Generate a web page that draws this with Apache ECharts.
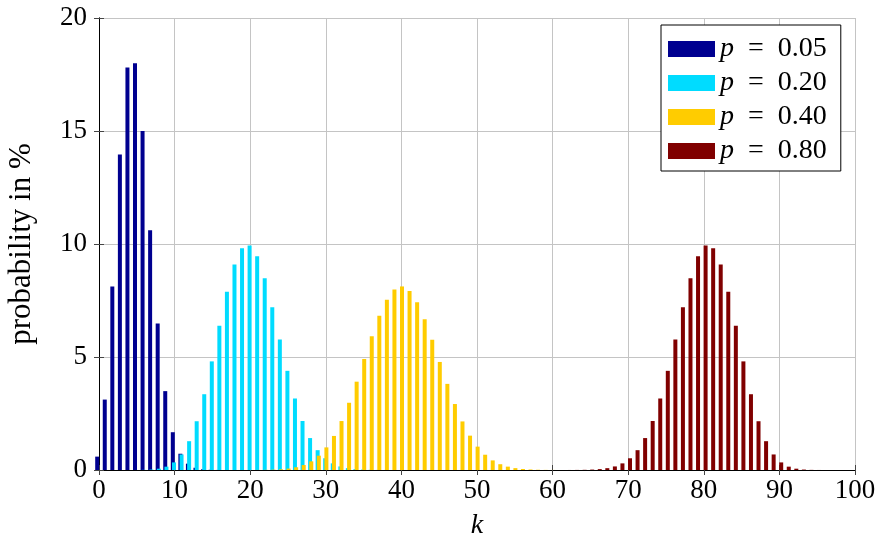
<!DOCTYPE html>
<html>
<head>
<meta charset="utf-8">
<script src="https://cdn.jsdelivr.net/npm/echarts@6/dist/echarts.min.js"></script>
<style>
html,body{margin:0;padding:0;background:#fff;}
#chart{width:877px;height:542px;}
</style>
</head>
<body>
<div id="chart"></div>
<script>
// Series names
const seriesNames = ['p = 0.05', 'p = 0.20', 'p = 0.40', 'p = 0.80'];
// First k of each values array (values are probability in %)
const p05Start = 0;
const p05 = [0.592, 3.116, 8.118, 13.958, 17.814, 18.002, 15.001, 10.603, 6.487, 3.490, 1.672, 0.720, 0.281, 0.100, 0.033, 0.010, 0.003, 0.001];
const p20Start = 5;
const p20 = [0.0015, 0.0059, 0.0199, 0.0578, 0.148, 0.336, 0.688, 1.275, 2.158, 3.353, 4.806, 6.383, 7.885, 9.090, 9.807, 9.930, 9.457, 8.490, 7.198, 5.773, 4.388, 3.164, 2.168, 1.413, 0.877, 0.519, 0.293, 0.158, 0.081, 0.040, 0.019, 0.0085, 0.0037, 0.0015, 0.0006];
const p40Start = 20;
const p40 = [0.0011, 0.0027, 0.0064, 0.0145, 0.031, 0.063, 0.121, 0.220, 0.383, 0.634, 1.001, 1.507, 2.166, 2.975, 3.908, 4.913, 5.914, 6.820, 7.538, 7.989, 8.122, 7.924, 7.421, 6.673, 5.763, 4.781, 3.811, 2.919, 2.149, 1.520, 1.034, 0.676, 0.425, 0.256, 0.149, 0.083, 0.045, 0.023, 0.011, 0.005, 0.0024];
const p80Start = 61;
const p80 = [0.0006, 0.0015, 0.0037, 0.0085, 0.019, 0.040, 0.081, 0.158, 0.293, 0.519, 0.877, 1.413, 2.168, 3.164, 4.388, 5.773, 7.198, 8.490, 9.457, 9.930, 9.807, 9.090, 7.885, 6.383, 4.806, 3.353, 2.158, 1.275, 0.688, 0.336, 0.148, 0.058, 0.020, 0.006, 0.0015];
const colors = ['#000090', '#00dcff', '#ffcc00', '#800000'];
const xTicks = [0, 10, 20, 30, 40, 50, 60, 70, 80, 90, 100];
const yTicks = [0, 5, 10, 15, 20];

function pairs(start, vals) { return vals.map((v, i) => [start + i, v]); }
const allData = [pairs(p05Start, p05), pairs(p20Start, p20), pairs(p40Start, p40), pairs(p80Start, p80)];

const FONT = 'Liberation Serif';
const chart = echarts.init(document.getElementById('chart'), null, {renderer: 'canvas'});
const tickStyle = {show: true, inside: true, length: 5, lineStyle: {color: '#444', width: 1}};
const option = {
  animation: false,
  backgroundColor: '#fff',
  color: colors,
  grid: {left: 99, right: 22, top: 18, bottom: 72, show: false, containLabel: false, outerBoundsMode: 'none'},
  legend: {
    orient: 'vertical',
    left: 661, top: 25,
    padding: [10, 14, 6, 7],
    backgroundColor: '#fff',
    borderColor: '#000', borderWidth: 1,
    itemWidth: 47, itemHeight: 16, itemGap: 6,
    icon: 'rect',
    data: seriesNames,
    formatter: n => '{i|p}\u2002=\u2002' + n.slice(4),
    textStyle: {
      fontFamily: FONT, fontSize: 28, color: '#000', lineHeight: 26,
      rich: {
        i: {fontFamily: FONT, fontStyle: 'italic', fontSize: 28, lineHeight: 26}
      }
    }
  },
  xAxis: [{
    type: 'value', min: xTicks[0], max: xTicks[xTicks.length - 1], interval: 10,
    name: 'k', nameLocation: 'middle', nameGap: 42,
    nameTextStyle: {fontFamily: FONT, fontStyle: 'italic', fontSize: 28, color: '#000'},
    axisLine: {show: true, onZero: false, lineStyle: {color: '#000', width: 1}},
    axisTick: tickStyle,
    axisLabel: {fontFamily: FONT, fontSize: 27, color: '#000', margin: 7},
    splitLine: {show: true, lineStyle: {color: '#c4c4c4', width: 1}}
  }, {
    type: 'value', position: 'top', min: xTicks[0], max: xTicks[xTicks.length - 1], interval: 10,
    axisLine: {show: true, lineStyle: {color: '#000', width: 1}},
    axisTick: tickStyle, axisLabel: {show: false}, splitLine: {show: false}
  }],
  yAxis: [{
    type: 'value', min: yTicks[0], max: yTicks[yTicks.length - 1], interval: 5,
    name: 'probability in %', nameLocation: 'middle', nameGap: 62, nameRotate: 90,
    nameTextStyle: {fontFamily: FONT, fontSize: 31, color: '#000'},
    axisLine: {show: true, onZero: false, lineStyle: {color: '#000', width: 1}},
    axisTick: tickStyle,
    axisLabel: {fontFamily: FONT, fontSize: 27, color: '#000', margin: 12},
    splitLine: {show: true, lineStyle: {color: '#c4c4c4', width: 1}}
  }, {
    type: 'value', position: 'right', min: yTicks[0], max: yTicks[yTicks.length - 1], interval: 5,
    axisLine: {show: true, lineStyle: {color: '#000', width: 1}},
    axisTick: tickStyle, axisLabel: {show: false}, splitLine: {show: false}
  }],
  series: seriesNames.map((name, i) => ({
    name: name,
    type: 'bar',
    xAxisIndex: 0, yAxisIndex: 0,
    data: allData[i],
    barWidth: 4,
    barGap: '-70%',
    itemStyle: {color: colors[i]},
    emphasis: {disabled: true}
  }))
};
chart.setOption(option);
</script>
</body>
</html>
